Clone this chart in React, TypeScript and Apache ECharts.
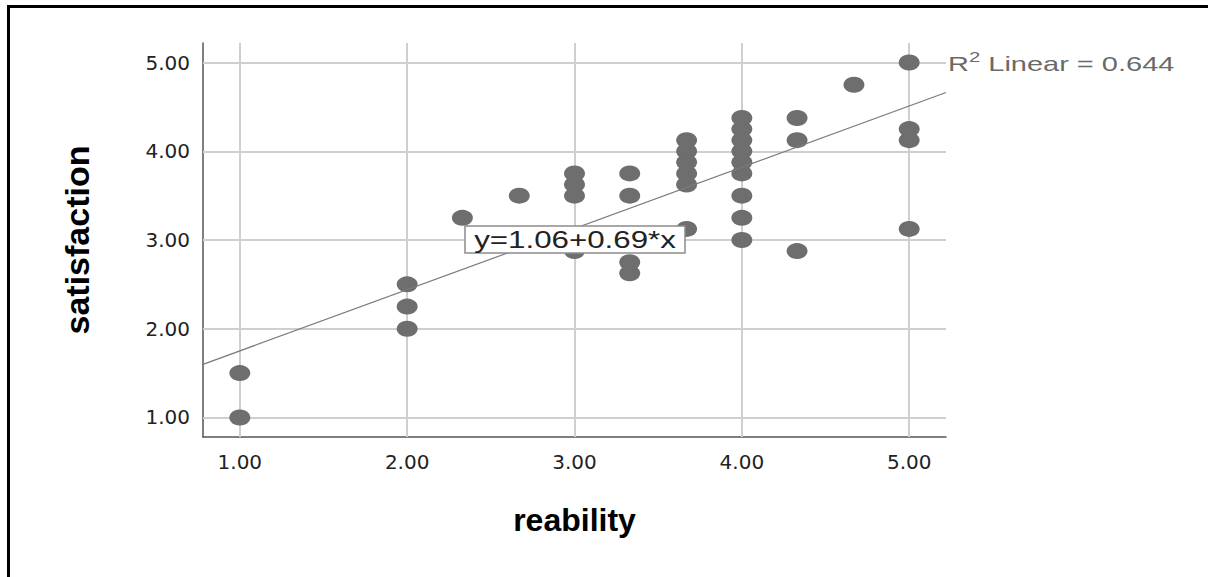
import React, { useEffect, useRef } from "react";
import * as echarts from "echarts";

// Observed data (reability vs satisfaction)
const reability = [
  1, 1, 2, 2, 2, 2.33, 2.67, 3, 3, 3, 3, 3.33, 3.33, 3.33, 3.33, 3.67, 3.67, 3.67, 3.67, 3.67, 3.67,
  4, 4, 4, 4, 4, 4, 4, 4, 4, 4.33, 4.33, 4.33, 4.67, 5, 5, 5, 5,
];
const satisfaction = [
  1, 1.5, 2, 2.25, 2.5, 3.25, 3.5, 3.75, 3.625, 3.5, 2.875, 3.75, 3.5, 2.75, 2.625, 4.125, 4, 3.875,
  3.75, 3.625, 3.125, 4.375, 4.25, 4.125, 4, 3.875, 3.75, 3.5, 3.25, 3, 4.375, 4.125, 2.875, 4.75, 5,
  4.25, 4.125, 3.125,
];

const tickValues = [1, 2, 3, 4, 5];
const axisMin = 0.78;
const axisMax = 5.22;

const intercept = 1.06;
const slope = 0.69;
const rSquared = 0.644;

const xTitle = "reability";
const yTitle = "satisfaction";

export default function App() {
  const ref = useRef<HTMLDivElement>(null);

  useEffect(() => {
    if (!ref.current) return;
    const chart = echarts.init(ref.current, null, { renderer: "svg" });
    const points = reability.map((x, i) => [x, satisfaction[i]]);
    const fitLine = [
      [axisMin, intercept + slope * axisMin],
      [axisMax, intercept + slope * axisMax],
    ];
    const fmt = (v: number) => v.toFixed(2);
    const gridColor = "#cfcfcf";

    chart.setOption({
      animation: false,
      backgroundColor: "#ffffff",
      grid: { left: 203, right: 262, top: 43, bottom: 140, containLabel: false },
      xAxis: {
        type: "value",
        min: axisMin,
        max: axisMax,
        name: xTitle,
        nameLocation: "middle",
        nameGap: 67,
        nameTextStyle: { fontFamily: "Liberation Sans", fontWeight: "bold", fontSize: 32, color: "#000" },
        axisLine: { show: true, onZero: false, lineStyle: { color: "#555", width: 1.5 } },
        axisTick: { show: false },
        splitLine: { show: false },
        axisLabel: {
          customValues: tickValues,
          formatter: fmt,
          margin: 15,
          fontFamily: "DejaVu Sans",
          fontSize: 20,
          color: "#222",
        },
      },
      yAxis: {
        type: "value",
        min: axisMin,
        max: axisMax,
        name: yTitle,
        nameLocation: "middle",
        nameRotate: 90,
        nameGap: 109,
        nameTextStyle: { fontFamily: "Liberation Sans", fontWeight: "bold", fontSize: 34, color: "#000" },
        axisLine: { show: true, onZero: false, lineStyle: { color: "#555", width: 1.5 } },
        axisTick: { show: false },
        splitLine: { show: false },
        axisLabel: {
          customValues: tickValues,
          formatter: fmt,
          margin: 13,
          fontFamily: "DejaVu Sans",
          fontSize: 20,
          color: "#222",
        },
      },
      series: [
        {
          type: "line",
          data: fitLine,
          z: 4,
          symbol: "none",
          lineStyle: { color: "#7a7a7a", width: 1.2 },
          silent: true,
          markLine: {
            z: 1,
            silent: true,
            symbol: ["none", "none"],
            label: { show: false },
            lineStyle: { color: gridColor, width: 2, type: "solid" },
            emphasis: { disabled: true },
            data: [
              ...tickValues.map((v) => ({ xAxis: v })),
              ...tickValues.map((v) => ({ yAxis: v })),
            ],
          },
        },
        {
          type: "scatter",
          data: points,
          z: 3,
          symbol: "circle",
          symbolSize: [21, 16],
          itemStyle: { color: "#6e6e6e", opacity: 1 },
        },
      ],
      graphic: [
        { type: "rect", z: 100, shape: { x: 7, y: 5, width: 1201, height: 3 }, style: { fill: "#000" } },
        { type: "rect", z: 100, shape: { x: 7, y: 5, width: 3, height: 572 }, style: { fill: "#000" } },
        {
          type: "rect",
          z: 100,
          shape: { x: 465, y: 226, width: 220, height: 27 },
          style: { fill: "#fff", stroke: "#8c8c8c", lineWidth: 1.5 },
        },
        {
          type: "text",
          z: 101,
          x: 575,
          y: 240,
          scaleX: 1.36,
          style: {
            text: `y=${intercept.toFixed(2)}+${slope.toFixed(2)}*x`,
            x: 0,
            y: 0,
            align: "center",
            verticalAlign: "middle",
            fontFamily: "Liberation Sans",
            fontSize: 23,
            fill: "#222",
          },
        },
        {
          type: "text",
          z: 101,
          x: 948,
          y: 64,
          scaleX: 1.45,
          style: {
            text: `{a|R}{b|2}{a| Linear = ${rSquared.toFixed(3)}}`,
            x: 0,
            y: 0,
            align: "left",
            verticalAlign: "middle",
            rich: {
              a: { fontFamily: "Liberation Sans", fontSize: 20, fill: "#6a6a6a" },
              b: { fontFamily: "Liberation Sans", fontSize: 14, fill: "#6a6a6a", padding: [0, 0, 14, 0] },
            },
          },
        },
      ],
    });
    return () => chart.dispose();
  }, []);

  return (
    <div
      ref={ref}
      style={{ position: "fixed", left: 0, top: 0, width: 1208, height: 577, background: "#fff" }}
    />
  );
}
